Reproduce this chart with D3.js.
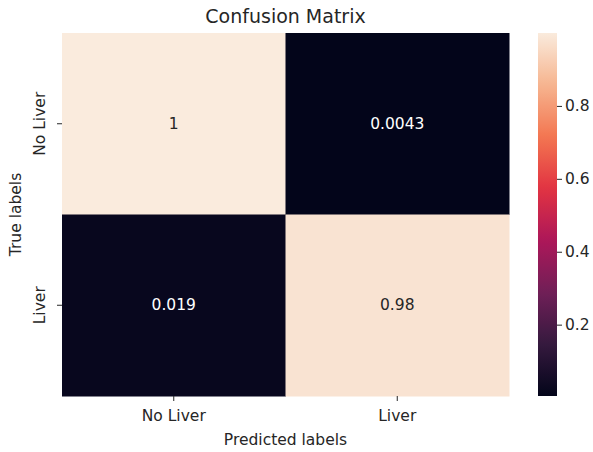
<!DOCTYPE html>
<html>
<head>
<meta charset="utf-8">
<script src="https://cdn.jsdelivr.net/npm/d3@7"></script>
<style>
  html, body { margin: 0; padding: 0; background: #ffffff; }
  svg { display: block; font-family: "DejaVu Sans", sans-serif; }
</style>
</head>
<body>
<svg id="chart" width="593" height="452"></svg>
<script>
// ---- data ----
const predictedLabels = ["No Liver", "Liver"];
const trueLabels = ["No Liver", "Liver"];
const rowNoLiver = [1, 0.0043];
const rowLiver = [0.019, 0.98];
const matrixRows = [rowNoLiver, rowLiver];
const colorbarTicks = [0.2, 0.4, 0.6, 0.8];
const titleText = "Confusion Matrix";
const xLabelText = "Predicted labels";
const yLabelText = "True labels";

// rocket colormap stops
const rocketStops = ["#03051a", "#35193e", "#701f57", "#ad1759", "#e13342", "#f37651", "#f6b48f", "#faebdd"];
const rocket = d3.piecewise(d3.interpolateRgb, rocketStops);

const svg = d3.select("#chart");
const M = { left: 62, top: 33, right: 509, bottom: 396 };

const cells = [];
matrixRows.forEach((row, i) => row.forEach((v, j) => cells.push({ r: trueLabels[i], c: predictedLabels[j], v })));
const allVals = cells.map(d => d.v);
const vmin = d3.min(allVals), vmax = d3.max(allVals);

const x = d3.scaleBand().domain(predictedLabels).range([M.left, M.right]).padding(0);
const y = d3.scaleBand().domain(trueLabels).range([M.top, M.bottom]).padding(0);
const color = d3.scaleSequential(rocket).domain([vmin, vmax]);
const fmt = d3.format(".2~g");
const textColor = "#262626";
const fs = 15.5;

// cells
svg.append("g").selectAll("rect").data(cells).join("rect")
  .attr("x", d => x(d.c)).attr("y", d => y(d.r))
  .attr("width", x.bandwidth() + 0.5).attr("height", y.bandwidth() + 0.5)
  .attr("fill", d => color(d.v));

// annotations
svg.append("g").selectAll("text").data(cells).join("text")
  .attr("x", d => x(d.c) + x.bandwidth() / 2)
  .attr("y", d => y(d.r) + y.bandwidth() / 2)
  .attr("text-anchor", "middle").attr("dominant-baseline", "central")
  .attr("font-size", fs)
  .attr("fill", d => (d3.hsl(color(d.v)).l > 0.5 ? textColor : "#ffffff"))
  .text(d => fmt(d.v));

// x axis
const xAxis = d3.axisBottom(x).tickSize(5).tickPadding(9);
const gx = svg.append("g").attr("transform", `translate(0,${M.bottom})`).call(xAxis);
gx.select(".domain").remove();
gx.selectAll("line").attr("stroke", textColor).attr("stroke-width", 1);
gx.selectAll("text").attr("font-size", fs).attr("fill", textColor).attr("font-family", "DejaVu Sans");

// y axis
const yAxis = d3.axisLeft(y).tickSize(5).tickPadding(6);
const gy = svg.append("g").attr("transform", `translate(${M.left},0)`).call(yAxis);
gy.select(".domain").remove();
gy.selectAll("line").attr("stroke", textColor).attr("stroke-width", 1);
gy.selectAll("text")
  .attr("font-size", fs).attr("fill", textColor).attr("font-family", "DejaVu Sans")
  .attr("x", null).attr("dy", null)
  .attr("text-anchor", "middle").attr("dominant-baseline", "central")
  .attr("transform", "translate(-22,0) rotate(-90)");

// title and axis labels
svg.append("text").attr("x", (M.left + M.right) / 2).attr("y", 23)
  .attr("text-anchor", "middle").attr("font-size", 19).attr("fill", textColor).text(titleText);
svg.append("text").attr("x", (M.left + M.right) / 2).attr("y", 445)
  .attr("text-anchor", "middle").attr("font-size", fs).attr("fill", textColor).text(xLabelText);
svg.append("text").attr("transform", `translate(16,${(M.top + M.bottom) / 2}) rotate(-90)`)
  .attr("text-anchor", "middle").attr("dominant-baseline", "central")
  .attr("font-size", fs).attr("fill", textColor).text(yLabelText);

// colorbar
const cb = { x: 538, w: 19, top: M.top, bottom: M.bottom };
const cbScale = d3.scaleLinear().domain([vmin, vmax]).range([cb.bottom, cb.top]);
const defs = svg.append("defs");
const grad = defs.append("linearGradient").attr("id", "cbgrad")
  .attr("x1", 0).attr("y1", 1).attr("x2", 0).attr("y2", 0);
d3.range(0, 1.0001, 0.02).forEach(t => {
  grad.append("stop").attr("offset", t).attr("stop-color", rocket(t));
});
svg.append("rect").attr("x", cb.x).attr("y", cb.top).attr("width", cb.w)
  .attr("height", cb.bottom - cb.top).attr("fill", "url(#cbgrad)");
const cbAxis = d3.axisRight(cbScale).tickValues(colorbarTicks).tickSize(5).tickPadding(3).tickFormat(d3.format(".1f"));
const gcb = svg.append("g").attr("transform", `translate(${cb.x + cb.w},0)`).call(cbAxis);
gcb.select(".domain").remove();
gcb.selectAll("line").attr("stroke", textColor);
gcb.selectAll("text").attr("font-size", fs).attr("fill", textColor).attr("font-family", "DejaVu Sans");
</script>
</body>
</html>
